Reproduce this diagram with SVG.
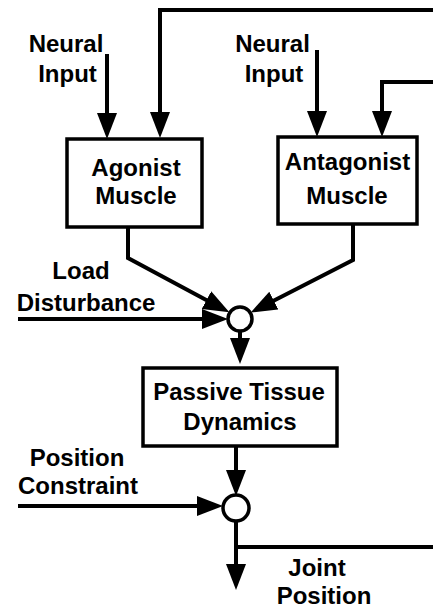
<svg xmlns="http://www.w3.org/2000/svg" width="433" height="610" viewBox="0 0 433 610">
  <style>
    .box { fill: #fff; stroke: #000; stroke-width: 3.5; }
    .sum { fill: #fff; stroke: #000; stroke-width: 3.5; }
    .wire { fill: none; stroke: #000; stroke-width: 4; stroke-linejoin: miter; }
    .arrow { marker-end: url(#head); }
    text { font-family: "Liberation Sans", Arial, Helvetica, sans-serif; font-weight: bold; font-size: 24px; fill: #000; text-anchor: middle; }
  </style>
  <defs>
    <marker id="head" markerUnits="userSpaceOnUse" markerWidth="30" markerHeight="24" refX="14" refY="10" orient="auto">
      <path d="M0,0 L26,10 L0,20 Z" fill="#000"/>
    </marker>
  </defs>

  <rect width="433" height="610" fill="#fff"/>

  <g id="connectors">
    <!-- inputs to the muscles -->
    <path class="wire arrow" d="M107,54 V127"/>
    <path class="wire arrow" d="M433,10 H160 V126"/>
    <path class="wire arrow" d="M317,50 V125"/>
    <path class="wire arrow" d="M433,82 H382 V125"/>
    <!-- muscle outputs into the first summing junction -->
    <path class="wire arrow" d="M128,227 V258 L218.8,306.7"/>
    <path class="wire arrow" d="M353,224 V260 L261.4,307"/>
    <path class="wire arrow" d="M18,319 H216"/>
    <path class="wire arrow" d="M240,331 V352"/>
    <!-- tissue output into the second summing junction -->
    <path class="wire arrow" d="M236,446 V484"/>
    <path class="wire arrow" d="M18,506 H211"/>
    <!-- joint position output and feedback -->
    <path class="wire arrow" d="M236,521 V578"/>
    <path class="wire" d="M236,547 H433"/>
  </g>

  <g id="agonist">
    <rect class="box" x="67" y="139" width="135" height="88"/>
    <text x="136" y="176">Agonist</text>
    <text x="136" y="204">Muscle</text>
  </g>

  <g id="antagonist">
    <rect class="box" x="278" y="137" width="139" height="87"/>
    <text x="347.5" y="170">Antagonist</text>
    <text x="347" y="204">Muscle</text>
  </g>

  <g id="sum-force">
    <circle class="sum" cx="240" cy="319" r="12"/>
  </g>

  <g id="passive-tissue">
    <rect class="box" x="143" y="368" width="194" height="78"/>
    <text x="239" y="400">Passive Tissue</text>
    <text x="240" y="430">Dynamics</text>
  </g>

  <g id="sum-position">
    <circle class="sum" cx="236" cy="508" r="13"/>
  </g>

  <g id="labels">
    <text x="66" y="52">Neural</text>
    <text x="67.5" y="82">Input</text>
    <text x="272.5" y="52">Neural</text>
    <text x="274" y="82">Input</text>
    <text x="81" y="279">Load</text>
    <text x="86" y="311">Disturbance</text>
    <text x="77" y="466">Position</text>
    <text x="78" y="494">Constraint</text>
    <text x="317" y="576">Joint</text>
    <text x="324" y="604">Position</text>
  </g>
</svg>
